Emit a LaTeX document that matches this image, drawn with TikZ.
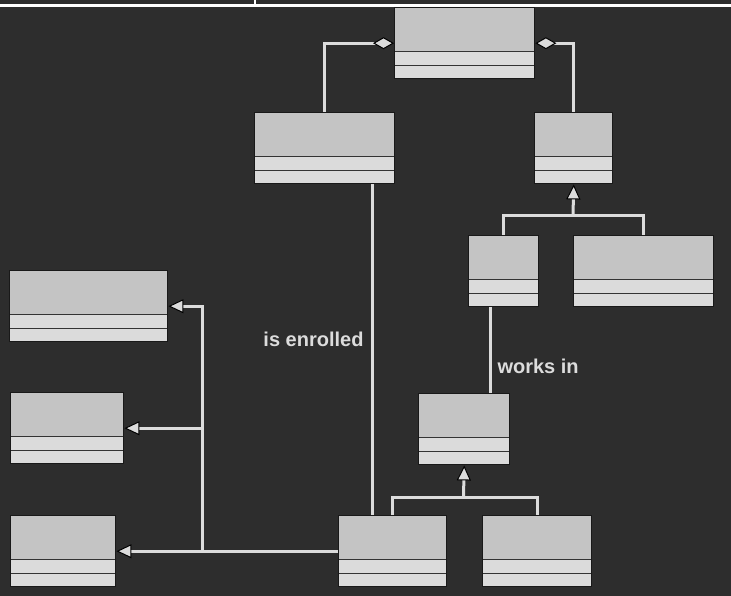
\documentclass[tikz,border=0pt]{standalone}
\usepackage{fontspec}
\setmainfont{Liberation Sans}
\usetikzlibrary{arrows.meta,calc}
\definecolor{BgDark}{HTML}{2D2D2D}
\definecolor{HeadGray}{HTML}{C4C4C4}
\definecolor{RowGray}{HTML}{DBDBDB}
\definecolor{LinkGray}{HTML}{DCDCDC}

\begin{document}
\begin{tikzpicture}[x=1pt,y=-1pt,
    font=\fontsize{20}{24}\selectfont\bfseries,
    cls/.style={draw=black!90,line width=1.4pt,fill=HeadGray,anchor=north west,
      minimum height=71pt,inner sep=0pt,
      path picture={
        \fill[RowGray] ([yshift=27pt]path picture bounding box.south west) rectangle (path picture bounding box.south east);
        \draw[line width=1.3pt,black!80] ([yshift=27pt]path picture bounding box.south west) -- ([yshift=27pt]path picture bounding box.south east);
        \draw[line width=1.3pt,black!80] ([yshift=13.5pt]path picture bounding box.south west) -- ([yshift=13.5pt]path picture bounding box.south east);
      }},
    link/.style={draw=LinkGray,line width=3pt},
    gen/.style={link,-{Triangle[length=15pt,width=14pt,line width=1pt,color=black,fill=RowGray]}},
    aggr/.style={link,-{Diamond[length=21pt,width=12pt,line width=1pt,color=black,fill=RowGray]}},
    lbl/.style={text=LinkGray,inner sep=0pt}]
  \useasboundingbox (0,0) rectangle (731,596);
  \fill[BgDark] (0,0) rectangle (731,596);
  \draw[white,line width=2.5pt] (0,5.5) -- (731,5.5);
  \draw[white,line width=1.5pt] (255,0) -- (255,5);

  % class boxes
  \node[cls,minimum width=140] (root) at (394,7) {};
  \node[cls,minimum width=140] (partL) at (254,112) {};
  \node[cls,minimum width=78] (partR) at (534,112) {};
  \node[cls,minimum width=70] (subA) at (468,235) {};
  \node[cls,minimum width=140] (subB) at (573,235) {};
  \node[cls,minimum width=158] (baseL1) at (9,270) {};
  \node[cls,minimum width=113] (baseL2) at (10,392) {};
  \node[cls,minimum width=105] (baseL3) at (10,515) {};
  \node[cls,minimum width=91] (mid) at (418,393) {};
  \node[cls,minimum width=108] (leafA) at (338,515) {};
  \node[cls,minimum width=109] (leafB) at (482,515) {};

  \coordinate (j1) at (573,216);
  \coordinate (j2) at (463.5,497);
  \coordinate (j3) at (202,550.5);

  % aggregation
  \draw[aggr] (partL.north) |- (root.west);
  \draw[aggr] (partR.north) |- (root.east);

  % generalization
  \draw[link] (subA.north) |- (j1) -| (subB.north);
  \draw[gen] (j1) -- (partR.south);
  \draw[link] (leafA.north) |- (j2) -| (leafB.north);
  \draw[gen] (j2) -- (mid.south);
  \draw[gen] (leafA.west) -- (baseL3.east);
  \draw[gen] (j3) |- (baseL1.east);
  \draw[gen] (j3 |- baseL2.east) -- (baseL2.east);

  % associations
  \draw[link] ([xshift=22pt]subA.south west) -- ([xshift=72pt]mid.north west)
    node[lbl,pos=0.69,right=6pt] {works in};
  \draw[link] ([xshift=118pt]partL.south west) -- ([xshift=34pt]leafA.north west)
    node[lbl,pos=0.47,left=7pt] {is enrolled};
\end{tikzpicture}
\end{document}
